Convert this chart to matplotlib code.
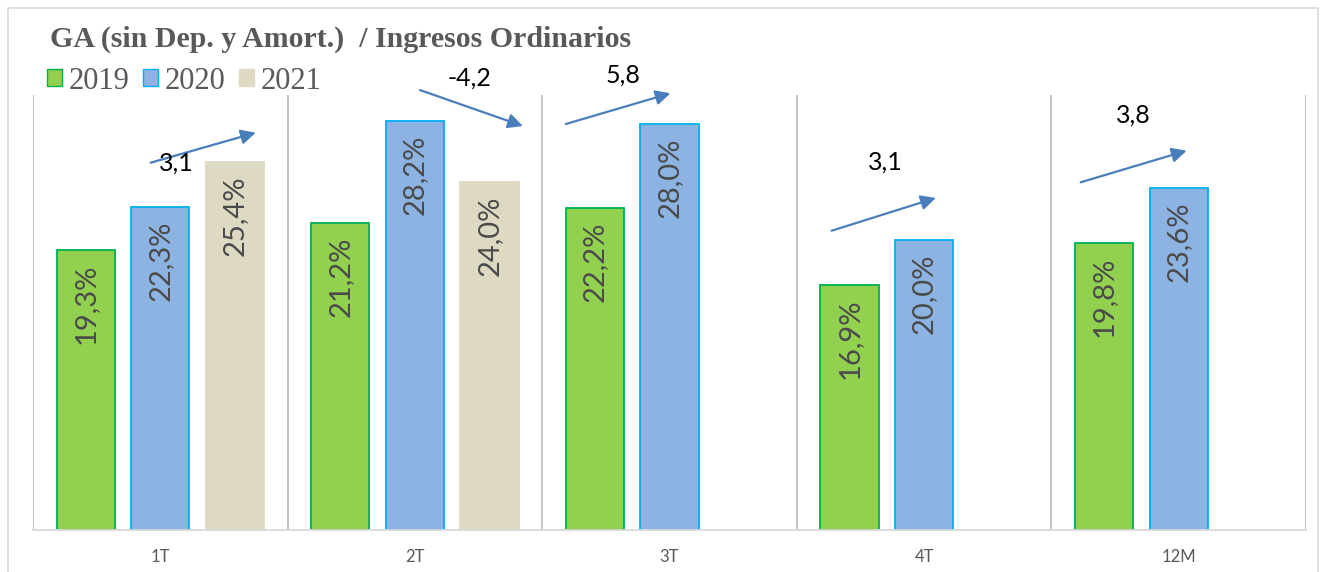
import matplotlib.pyplot as plt
from matplotlib.patches import Rectangle, Patch

# datos
categorias = ['1T', '2T', '3T', '4T', '12M']
anios = ['2019', '2020', '2021']
v2019 = [19.3, 21.2, 22.2, 16.9, 19.8]
v2020 = [22.3, 28.2, 28.0, 20.0, 23.6]
v2021 = [25.4, 24.0, None, None, None]
variaciones = ['3,1', '-4,2', '5,8', '3,1', '3,8']

# posiciones de las flechas (cola, punta, texto) en coordenadas de datos
flechas = [
    ((-0.038, 25.33), (0.375, 27.40), (0.064, 25.31)),
    ((1.020, 30.34), (1.424, 27.86), (1.216, 31.17)),
    ((1.593, 28.00), (2.004, 30.12), (1.817, 31.38)),
    ((2.637, 20.64), (3.046, 22.90), (2.846, 25.40)),
    ((3.615, 23.98), (4.031, 26.16), (3.820, 28.62)),
]

colores = ['#92D050', '#8DB3E2', '#DDD9C3']
bordes = ['#00B050', '#00B0F0', '#DDD9C3']
series = [v2019, v2020, v2021]

W, H = 1326, 572
fig = plt.figure(figsize=(W / 100, H / 100), dpi=100)
ax = fig.add_axes([33 / W, 1 - 530 / H, (1306 - 33) / W, (530 - 95) / H])

ancho = 0.228
sep = 0.293
for k, vals in enumerate(series):
    for i, v in enumerate(vals):
        if v is None:
            continue
        x = i + (k - 1) * sep
        ax.bar(x, v, width=ancho, color=colores[k], edgecolor=bordes[k],
               linewidth=1.3)
        ax.annotate(f'{v:.1f}%'.replace('.', ','), (x, v), xytext=(0, -10),
                    textcoords='offset points', rotation=90, ha='center',
                    va='top', fontsize=21, color='#4A4A4A',
                    family=['Lato', 'DejaVu Sans'])

# flechas con variaciones
for (cola, punta, pos_txt), txt in zip(flechas, variaciones):
    ax.annotate('', xy=punta, xytext=cola, annotation_clip=False,
                arrowprops=dict(arrowstyle='-|>', color='#4A7EBB', lw=1.6,
                                mutation_scale=22, shrinkA=0, shrinkB=0))
    ax.text(pos_txt[0], pos_txt[1], txt, ha='center', va='center',
            fontsize=18, color='black', family=['Lato', 'DejaVu Sans'],
            clip_on=False)

# divisiones verticales
for b in range(len(categorias) + 1):
    ax.axvline(b - 0.5, color='#BFBFBF', lw=1.3, zorder=0)

ax.set_xlim(-0.5, len(categorias) - 0.5)
ax.set_ylim(0, 30)
ax.set_yticks([])
ax.set_xticks(range(len(categorias)))
ax.set_xticklabels(categorias, fontsize=12, color='#595959',
                   family=['Lato', 'DejaVu Sans'])
ax.tick_params(axis='x', length=0, pad=14)
for s in ['top', 'left', 'right']:
    ax.spines[s].set_visible(False)
ax.spines['bottom'].set_color('#D9D9D9')
ax.spines['bottom'].set_linewidth(1.3)

# título y leyenda
fig.text(50 / W, 1 - 47 / H, 'GA (sin Dep. y Amort.)  / Ingresos Ordinarios',
         ha='left', va='baseline', fontsize=21.5, fontweight='bold',
         color='#595959', family='Liberation Serif')
handles = [Patch(facecolor=colores[k], edgecolor=bordes[k], label=anios[k])
           for k in range(3)]
fig.legend(handles=handles, loc='center left',
           bbox_to_anchor=(47 / W, 1 - 81 / H), ncol=3, frameon=False,
           prop={'family': 'Liberation Serif', 'size': 22},
           handlelength=0.5, handleheight=0.5, handletextpad=0.2,
           columnspacing=0.45, labelcolor='#595959', borderpad=0,
           borderaxespad=0)

# marco exterior
fig.patches.append(Rectangle((8 / W, -0.05), (1318 - 8) / W, 1.05 - 8 / H,
                             transform=fig.transFigure, fill=False,
                             edgecolor='#D9D9D9', lw=1.2))

plt.savefig('out.png', dpi=100)
